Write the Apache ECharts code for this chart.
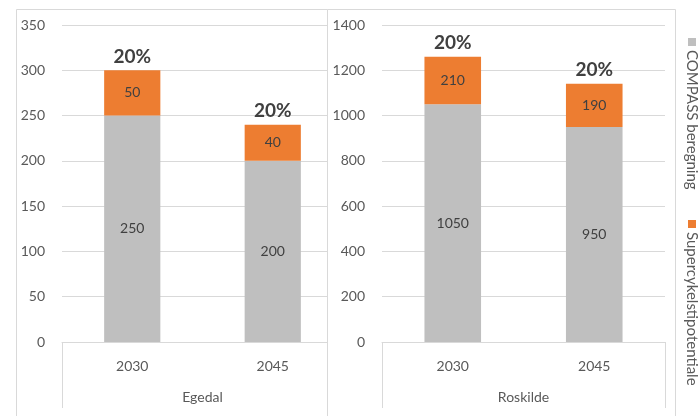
<!DOCTYPE html>
<html>
<head>
<meta charset="utf-8">
<script src="https://cdn.jsdelivr.net/npm/echarts@6/dist/echarts.min.js"></script>
<style>
  html, body { margin: 0; padding: 0; background: #fff; }
  #chart { width: 699px; height: 416px; }
</style>
</head>
<body>
<div id="chart"></div>
<script>
var years = ['2030', '2045'];
var egedalBase = [250, 200];
var egedalExtra = [50, 40];
var roskildeBase = [1050, 950];
var roskildeExtra = [210, 190];
var seriesNames = ['COMPASS beregning', 'Supercykelstipotentiale'];

var myChart = echarts.init(document.getElementById('chart'));

var font = 'Lato, "Noto Sans", sans-serif';
var gray = '#bfbfbf';
var orange = '#ed7d31';
var lineColor = '#d9d9d9';
var textColor = '#595959';

function yearAxis(idx, z) {
    return {
        type: 'category', gridIndex: idx, data: years, z: z,
        axisLine: {show: false}, axisTick: {show: false},
        axisLabel: {color: textColor, fontSize: 14, fontFamily: font, margin: 17}
    };
}
function groupAxis(idx, name, z) {
    return {
        type: 'category', gridIndex: idx, data: [name], position: 'bottom', z: z,
        axisLine: {show: true, lineStyle: {color: lineColor}},
        axisTick: {show: true, length: 66, lineStyle: {color: lineColor}},
        axisLabel: {color: textColor, fontSize: 14, fontFamily: font, margin: 48}
    };
}
function valueAxis(idx, max, interval, z) {
    return {
        type: 'value', gridIndex: idx, min: 0, max: max, interval: interval, z: z,
        axisLine: {show: false}, axisTick: {show: false},
        axisLabel: {color: textColor, fontSize: 14, fontFamily: font, margin: 17,
                    formatter: function (v) { return String(v); }},
        splitLine: {lineStyle: {color: lineColor}}
    };
}

var insideLabel = {show: true, position: 'inside', color: '#404040', fontSize: 14, fontFamily: font};
var topLabel = {show: true, position: 'top', distance: 4, color: '#404040', fontSize: 19, fontWeight: 'bold', fontFamily: font};

function pctSeries(stack, xi, yi, base, extra, z) {
    return {
        name: seriesNames[1], type: 'bar', stack: stack, xAxisIndex: xi, yAxisIndex: yi, barWidth: '40%', z: z,
        data: extra.map(function () { return 0; }), itemStyle: {color: 'transparent'},
        label: echarts.util.extend({formatter: function (p) {
            return Math.round(extra[p.dataIndex] / base[p.dataIndex] * 100) + '%';
        }}, topLabel)
    };
}

var option = {
    animation: false,
    backgroundColor: '#fff',
    grid: [
        {left: 62, right: 356, top: 25, bottom: 74},
        {left: 382, right: 34, top: 25, bottom: 74}
    ],
    xAxis: [
        yearAxis(0, 0), groupAxis(0, 'Egedal', 0),
        yearAxis(1, 3), groupAxis(1, 'Roskilde', 3)
    ],
    yAxis: [
        valueAxis(0, 350, 50, 0),
        valueAxis(1, 1400, 200, 3)
    ],
    graphic: [
        {type: 'rect', shape: {x: 16.5, y: 9.5, width: 311, height: 420}, style: {fill: 'none', stroke: lineColor}, z: 0},
        {type: 'rect', shape: {x: 327.5, y: 9.5, width: 348, height: 420}, style: {fill: '#fff', stroke: lineColor}, z: 1},
        {type: 'rect', shape: {x: 688, y: 38, width: 8, height: 8}, style: {fill: gray}, z: 5},
        {type: 'text', x: 692, y: 50, rotation: -Math.PI / 2,
         style: {text: seriesNames[0], fill: textColor, fontSize: 15, fontFamily: font, align: 'left', verticalAlign: 'middle'}, z: 5},
        {type: 'rect', shape: {x: 688, y: 220, width: 8, height: 8}, style: {fill: orange}, z: 5},
        {type: 'text', x: 692, y: 232, rotation: -Math.PI / 2,
         style: {text: seriesNames[1], fill: textColor, fontSize: 15, fontFamily: font, align: 'left', verticalAlign: 'middle'}, z: 5}
    ],
    series: [
        {name: seriesNames[0], type: 'bar', stack: 'e', xAxisIndex: 0, yAxisIndex: 0, barWidth: '40%',
         data: egedalBase, itemStyle: {color: gray}, label: insideLabel},
        {name: seriesNames[1], type: 'bar', stack: 'e', xAxisIndex: 0, yAxisIndex: 0, barWidth: '40%',
         data: egedalExtra, itemStyle: {color: orange}, label: insideLabel},
        pctSeries('e', 0, 0, egedalBase, egedalExtra, 2),
        {name: seriesNames[0], type: 'bar', stack: 'r', xAxisIndex: 2, yAxisIndex: 1, barWidth: '40%',
         data: roskildeBase, itemStyle: {color: gray}, label: insideLabel, z: 4},
        {name: seriesNames[1], type: 'bar', stack: 'r', xAxisIndex: 2, yAxisIndex: 1, barWidth: '40%',
         data: roskildeExtra, itemStyle: {color: orange}, label: insideLabel, z: 4},
        pctSeries('r', 2, 1, roskildeBase, roskildeExtra, 4)
    ]
};

myChart.setOption(option);
</script>
</body>
</html>
